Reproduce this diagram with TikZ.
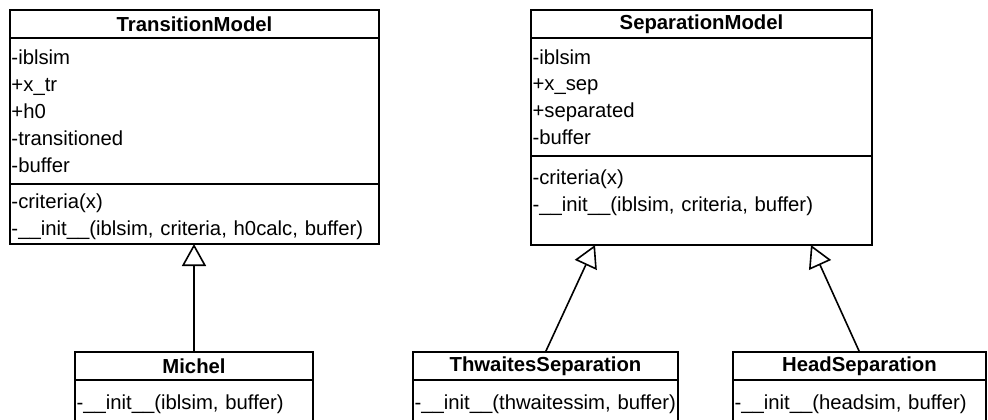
\documentclass[tikz,border=0pt]{standalone}
\usepackage{fontspec}
\setmainfont{Liberation Sans}
\usetikzlibrary{arrows.meta}

\newcommand\rowstrut{\rule[-6pt]{0pt}{27pt}}

\begin{document}
\begin{tikzpicture}[
  x=1pt, y=1pt,
  clshead/.style={draw, line width=1.6pt, outer sep=0pt, anchor=north west,
    minimum height=28pt, inner sep=0pt,
    font=\fontsize{20.3}{27}\selectfont\bfseries},
  clsbody/.style={draw, line width=1.6pt, outer sep=0pt, anchor=north west,
    inner xsep=1.5pt, inner ysep=0pt, align=left,
    font=\fontsize{20.3}{27}\selectfont,
    execute at begin node=\rowstrut, execute at end node=\rowstrut},
  inh/.style={-{Triangle[open, length=22pt, width=24pt]}, line width=1.6pt}
]
\useasboundingbox (0,0) rectangle (988,-420);

% base classes
\node[clshead, minimum width=369pt] (tm) at (10,-10) {TransitionModel};
\node[clsbody, text width=366pt, minimum height=146pt] (tmA) at (tm.south west)
  {-iblsim\\+x\_tr\\+h0\\-transitioned\\-buffer};
\node[clsbody, text width=366pt, minimum height=60pt] (tmM) at (tmA.south west)
  {-criteria(x)\\-\_\_init\_\_(iblsim, criteria, h0calc, buffer)};

\node[clshead, minimum width=341pt] (sm) at (531,-10) {SeparationModel};
\node[clsbody, text width=338pt, minimum height=118pt] (smA) at (sm.south west)
  {-iblsim\\+x\_sep\\+separated\\-buffer};
\node[clsbody, text width=338pt, minimum height=89pt] (smM) at (smA.south west)
  {\rule{0pt}{27pt}-criteria(x)\\-\_\_init\_\_(iblsim, criteria, buffer)\\};

% subclasses
\node[clshead, minimum width=238pt] (mi) at (75,-352) {Michel};
\node[clsbody, text width=235pt, minimum height=44pt] (miM) at (mi.south west)
  {-\_\_init\_\_(iblsim, buffer)};

\node[clshead, minimum width=265pt] (th) at (413,-352) {ThwaitesSeparation};
\node[clsbody, text width=262pt, minimum height=44pt] (thM) at (th.south west)
  {-\_\_init\_\_(thwaitessim, buffer)};

\node[clshead, minimum width=253pt] (hs) at (733,-352) {HeadSeparation};
\node[clsbody, text width=250pt, minimum height=44pt] (hsM) at (hs.south west)
  {-\_\_init\_\_(headsim, buffer)};

% inheritance
\coordinate (smL) at ([xshift=64pt]smM.south west);
\coordinate (smR) at ([xshift=-61pt]smM.south east);
\draw[inh] (mi.north) -- (mi.north |- tmM.south);
\draw[inh] (th.north) -- (smL);
\draw[inh] (hs.north) -- (smR);
\end{tikzpicture}
\end{document}
